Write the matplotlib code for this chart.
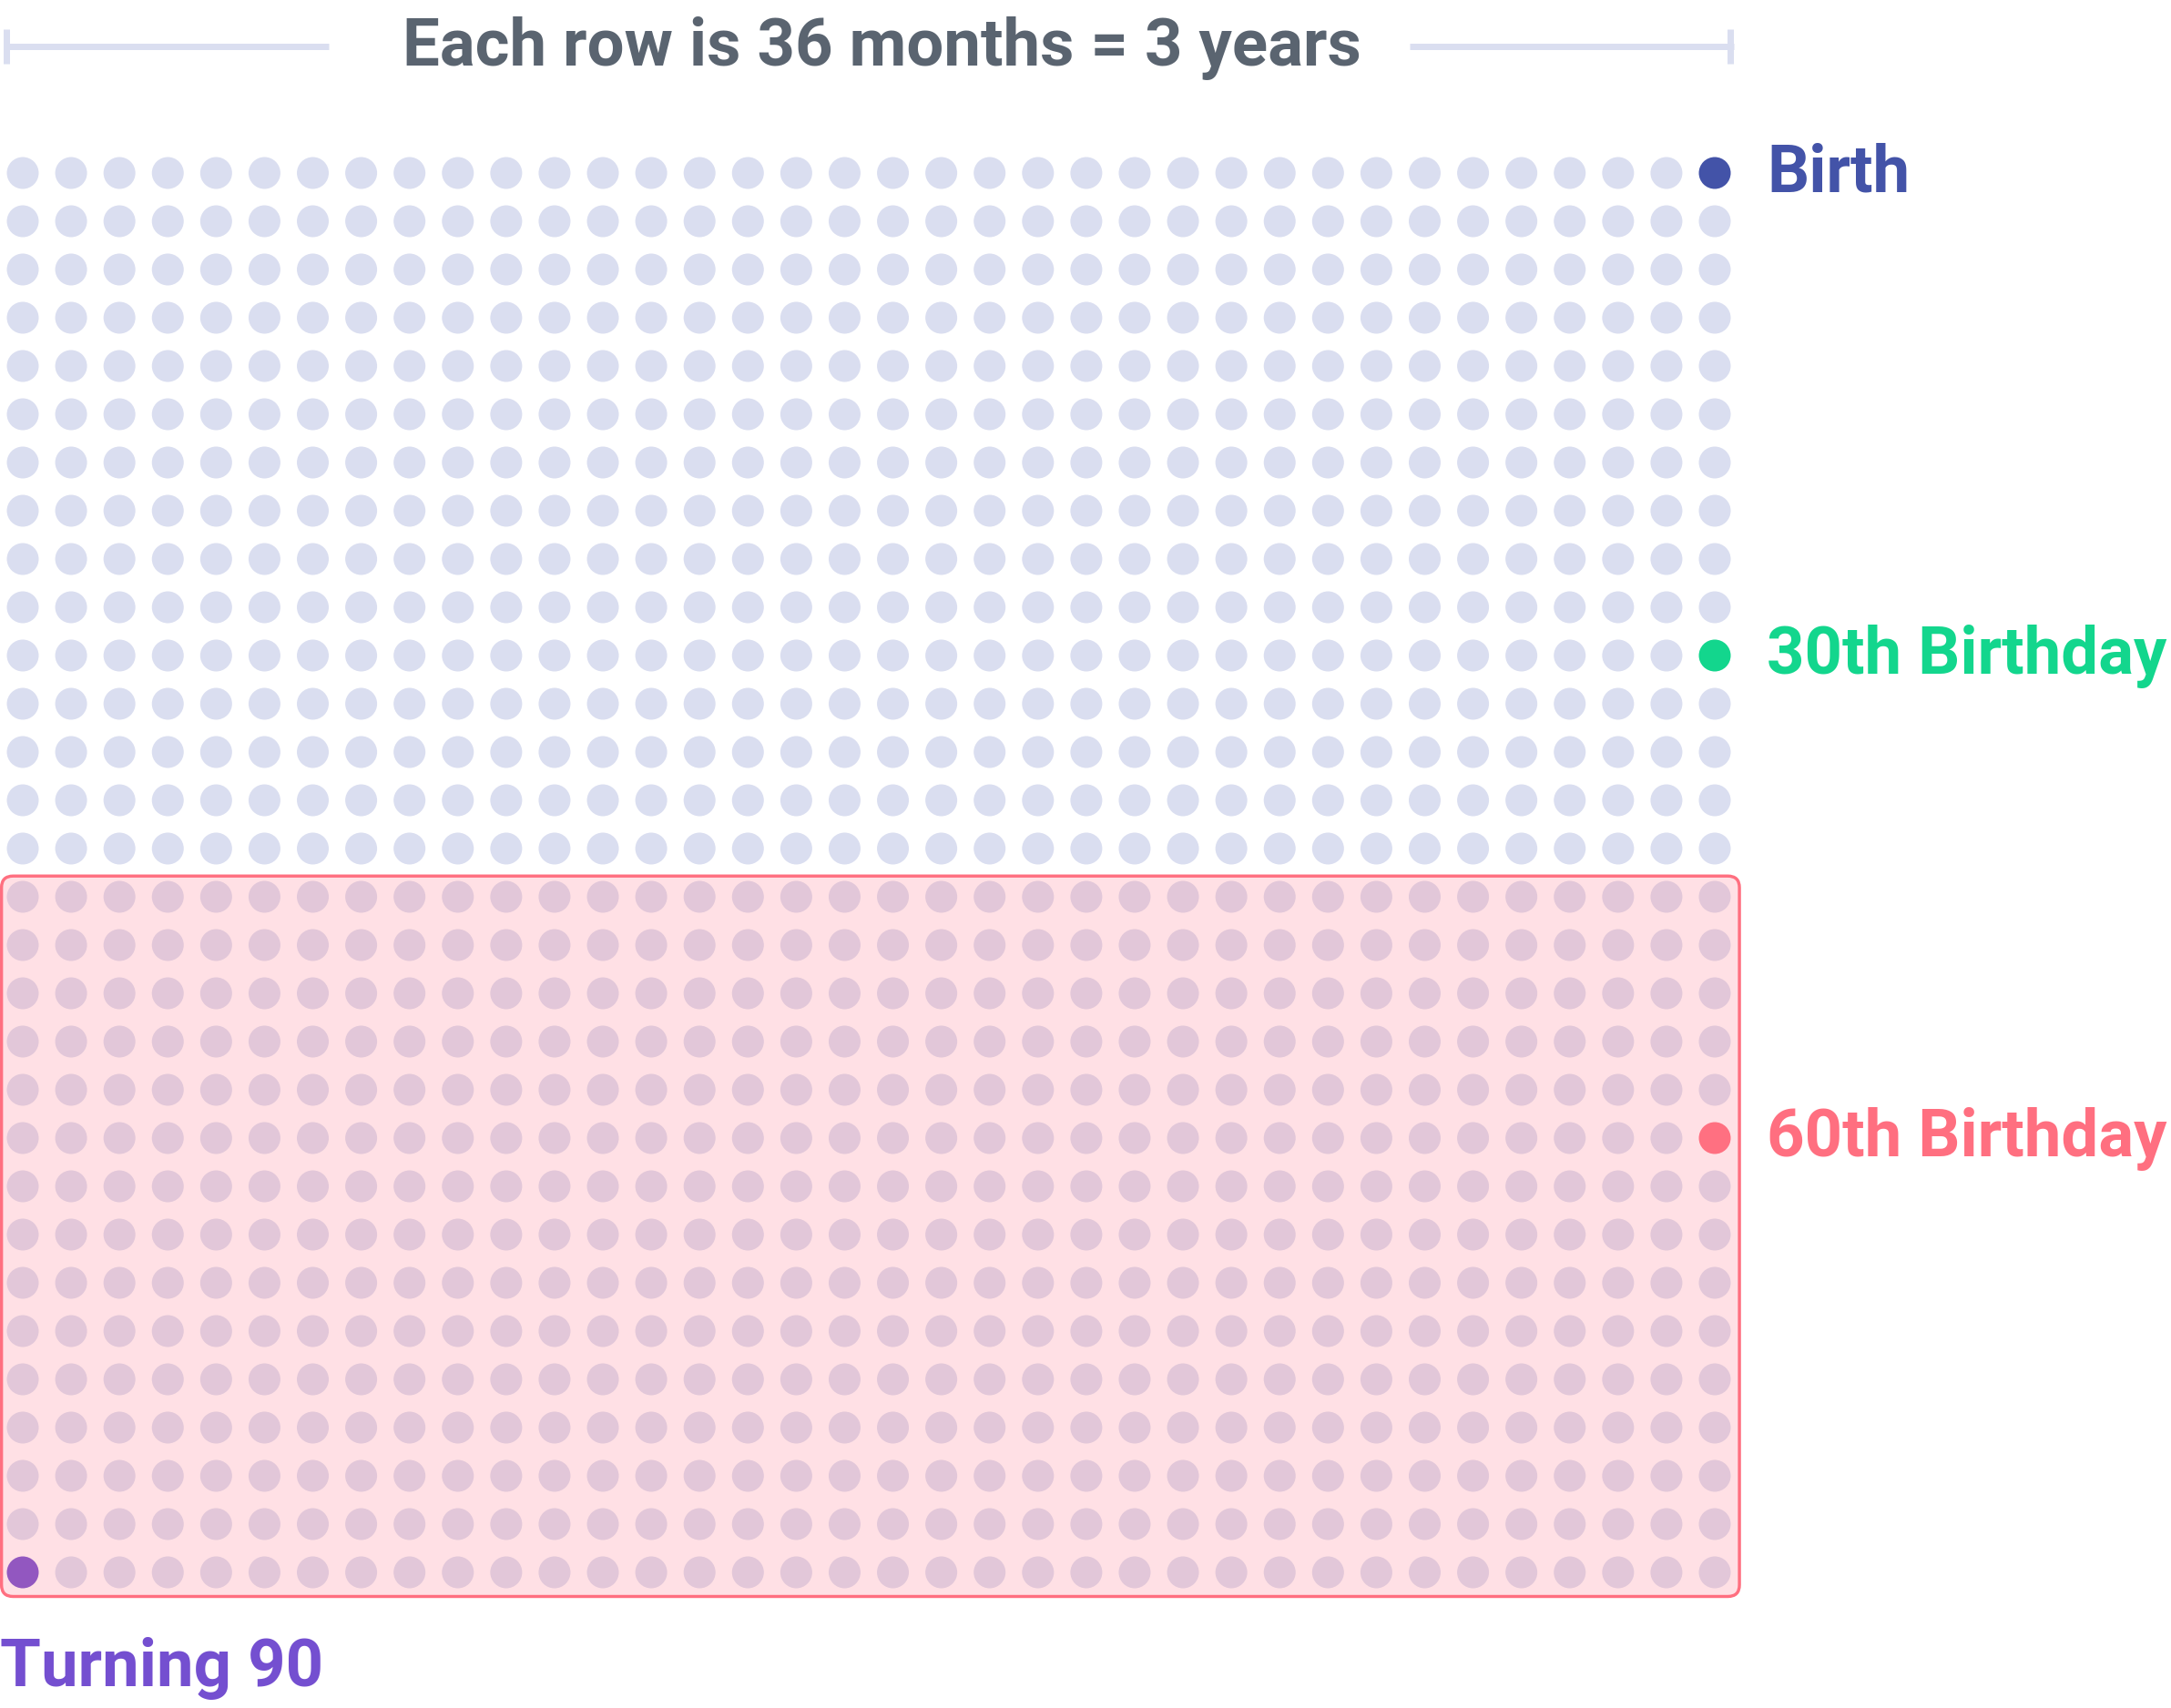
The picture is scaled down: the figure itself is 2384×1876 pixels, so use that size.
import matplotlib
matplotlib.use("Agg")
import matplotlib.pyplot as plt
from matplotlib.patches import FancyBboxPatch
import numpy as np

plt.rcParams['font.family'] = ['Roboto', 'DejaVu Sans']

# ---- data ----
n_cols = 36          # months per row
n_rows = 30          # 90 years / 3 years per row
title = "Each row is 36 months = 3 years"
milestone_labels = ["Birth", "30th Birthday", "60th Birthday", "Turning 90"]
milestone_rows = [0, 10, 20, 29]
milestone_cols = [35, 35, 35, 0]
milestone_dot_colors = ["#4353A8", "#13D68D", "#FF6F80", "#744FD0"]
milestone_text_colors = ["#4353A8", "#13D68D", "#FF6F80", "#744FD0"]
highlight_row_start = 15   # rows 15..29 highlighted (ages 45-90)
highlight_row_end = 29

# ---- style ----
dot_color = "#DADEF0"
title_color = "#5A6470"
box_edge = "#FF6F80"
box_face = "#FF7689"
box_alpha = 0.22

W, H, DPI = 2384, 1876, 200
fig = plt.figure(figsize=(W / DPI, H / DPI), dpi=DPI)
ax = fig.add_axes([0, 0, 1, 1])
ax.set_axis_off()

# pixel-to-grid mapping: col c -> 25 + 53.086*c px ; row r -> 190 + 53*r px (from top)
sx, x0 = 53.086, 25.0
sy, y0 = 53.0, 190.0
ax.set_xlim(-x0 / sx, (W - x0) / sx)
ax.set_ylim((H - y0) / sy, -y0 / sy)

cols, rows = np.meshgrid(np.arange(n_cols), np.arange(n_rows))
cols = cols.ravel()
rows = rows.ravel()

diam_pt = 35.0 * 72 / DPI
s = diam_pt ** 2

colors = [dot_color] * len(cols)
for r, c, col in zip(milestone_rows, milestone_cols, milestone_dot_colors):
    colors[r * n_cols + c] = col
ax.scatter(cols, rows, s=s, c=colors, linewidths=0, zorder=2)

# highlighted box (translucent overlay + edge)
bx0, bx1 = -0.44, n_cols - 0.49
by0, by1 = highlight_row_start - 0.43, highlight_row_end + 0.5
face = FancyBboxPatch((bx0, by0), bx1 - bx0, by1 - by0,
                      boxstyle="round,pad=0,rounding_size=0.24",
                      facecolor=box_face, alpha=box_alpha, edgecolor="none", zorder=3)
edge = FancyBboxPatch((bx0, by0), bx1 - bx0, by1 - by0,
                      boxstyle="round,pad=0,rounding_size=0.24",
                      facecolor="none", edgecolor=box_edge, linewidth=3.4 * 72 / DPI, zorder=4)
ax.add_patch(face)
ax.add_patch(edge)

# title bracket
lw = 7 * 72 / DPI
y_br = -2.63
ax.plot([-0.40, 6.33], [y_br, y_br], color=dot_color, lw=lw, solid_capstyle='butt', zorder=1)
ax.plot([28.68, 35.40], [y_br, y_br], color=dot_color, lw=lw, solid_capstyle='butt', zorder=1)
ax.plot([-0.33, -0.33], [-2.99, -2.27], color=dot_color, lw=lw, solid_capstyle='butt', zorder=1)
ax.plot([35.32, 35.32], [-2.99, -2.27], color=dot_color, lw=lw, solid_capstyle='butt', zorder=1)

fs = 26.1
ax.text(17.78, -2.235, title, ha='center', va='baseline', fontsize=fs,
        fontweight='bold', color=title_color, zorder=5)

# milestone labels
for lab, r, c, tc in zip(milestone_labels, milestone_rows, milestone_cols, milestone_text_colors):
    if c == n_cols - 1:
        ax.text(c + 1.08, r + 0.38, lab, ha='left', va='baseline', fontsize=fs,
                fontweight='bold', color=tc, zorder=5)
    else:
        ax.text(c - 0.47, r + 2.36, lab, ha='left', va='baseline', fontsize=fs,
                fontweight='bold', color=tc, zorder=5)

fig.savefig("out.png", dpi=DPI, facecolor="white")
